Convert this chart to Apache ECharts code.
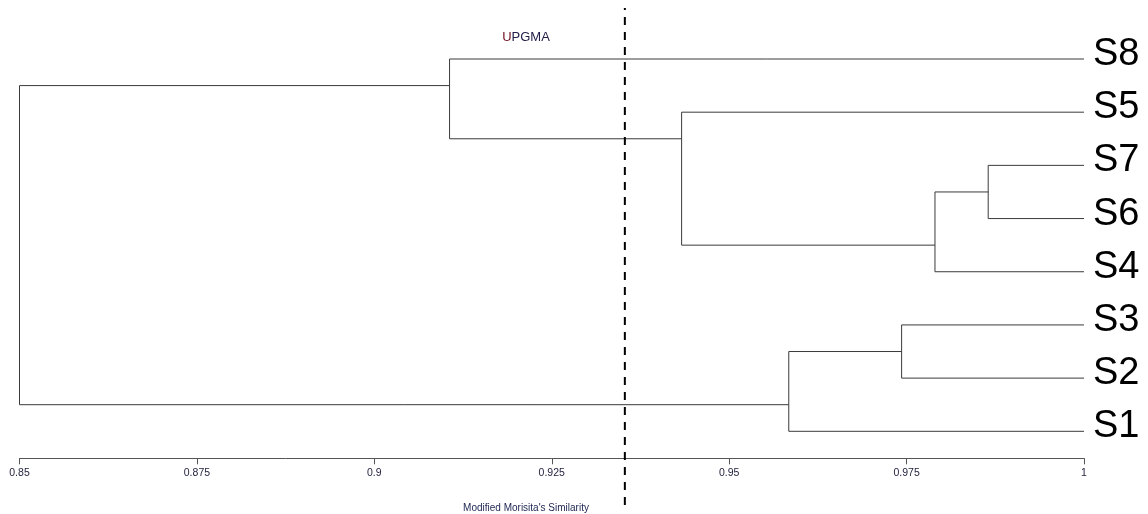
<!DOCTYPE html>
<html>
<head>
<meta charset="utf-8">
<title>UPGMA dendrogram</title>
<script src="https://cdn.jsdelivr.net/npm/echarts@6/dist/echarts.min.js"></script>
<style>
  html, body { margin: 0; padding: 0; background: #ffffff; }
  #chart { width: 1148px; height: 514px; }
</style>
</head>
<body>
<div id="chart"></div>
<script>
// Leaves in drawing order, top to bottom
const leaves = ['S8', 'S5', 'S7', 'S6', 'S4', 'S3', 'S2', 'S1'];

// Agglomeration steps: left child, right child, similarity at which they join.
// Children are leaf names or earlier steps written as 'N<step>'.
const mergeLeft = ['S7', 'N0', 'S5', 'S8', 'S3', 'N4', 'N3'];
const mergeRight = ['S6', 'S4', 'N1', 'N2', 'S2', 'S1', 'N5'];
const mergeSimilarity = [0.9865, 0.9790, 0.9433, 0.9106, 0.9743, 0.9584, 0.85];

// Cut level marked with the dashed line
const cutLevel = 0.9353;

// Similarity axis
const axisMin = 0.85;
const axisMax = 1;
const axisStep = 0.025;
const tickLabels = ['0.85', '0.875', '0.9', '0.925', '0.95', '0.975', '1'];

// ---- Tree layout (in data units: similarity on x, leaf index on y) ----
const nodeInfo = {};
leaves.forEach((name, i) => {
  nodeInfo[name] = { lo: i, hi: i, anchor: i, height: axisMax };
});
const segments = [];
mergeLeft.forEach((l, k) => {
  const r = mergeRight[k];
  const a = nodeInfo[l], b = nodeInfo[r];
  const h = mergeSimilarity[k];
  // horizontal branches from each child to this node
  segments.push([a.height, a.anchor, h, a.anchor]);
  segments.push([b.height, b.anchor, h, b.anchor]);
  // vertical joining bar
  segments.push([h, a.anchor, h, b.anchor]);
  nodeInfo['N' + k] = {
    lo: Math.min(a.lo, b.lo),
    hi: Math.max(a.hi, b.hi),
    anchor: a.hi + 0.5,
    height: h
  };
});

const chart = echarts.init(document.getElementById('chart'), null, { renderer: 'canvas' });

const font = '"Liberation Sans", Arial, sans-serif';
const lineColor = '#3a3a3a';

chart.setOption({
  animation: false,
  backgroundColor: '#ffffff',
  grid: [
    { left: 19.5, right: 64, top: 59, height: 372.3, containLabel: false },
    { left: 19.5, right: 64, top: 8, bottom: 9, containLabel: false }
  ],
  xAxis: [
    {
      type: 'value',
      gridIndex: 0,
      min: axisMin,
      max: axisMax,
      interval: axisStep,
      position: 'bottom',
      offset: 27,
      axisLine: { show: true, onZero: false, lineStyle: { color: '#555555', width: 1 } },
      axisTick: { show: true, length: 6, lineStyle: { color: '#555555' } },
      axisLabel: {
        margin: 9,
        fontSize: 10.5,
        fontFamily: font,
        color: '#1e1e3c',
        formatter: (v) => {
          const i = Math.round((v - axisMin) / axisStep);
          return tickLabels[i] !== undefined ? tickLabels[i] : '';
        }
      },
      splitLine: { show: false }
    },
    {
      type: 'value',
      gridIndex: 1,
      min: axisMin,
      max: axisMax,
      show: false
    }
  ],
  yAxis: [
    {
      type: 'value',
      gridIndex: 0,
      min: 0,
      max: leaves.length - 1,
      interval: 1,
      inverse: true,
      position: 'right',
      axisLine: { show: false, onZero: false },
      axisTick: { show: false },
      splitLine: { show: false },
      axisLabel: {
        margin: 9,
        formatter: (v) => '{leaf|' + (leaves[Math.round(v)] || '') + '}',
        rich: {
          leaf: {
            fontSize: 38,
            fontFamily: font,
            color: '#000000',
            padding: [0, 0, 9, 0]
          }
        }
      }
    },
    {
      type: 'value',
      gridIndex: 1,
      min: 0,
      max: 1,
      show: false
    }
  ],
  graphic: [
    {
      type: 'text',
      style: {
        x: 526,
        y: 37,
        text: '{u|U}{r|PGMA}',
        align: 'center',
        verticalAlign: 'middle',
        rich: {
          u: { fontSize: 13, fontFamily: font, fill: '#6e1020' },
          r: { fontSize: 13, fontFamily: font, fill: '#24204a' }
        }
      }
    },
    {
      type: 'text',
      style: {
        x: 526,
        y: 508,
        text: "Modified Morisita's Similarity",
        align: 'center',
        verticalAlign: 'middle',
        fontSize: 10,
        fontFamily: font,
        fill: '#1c2450'
      }
    }
  ],
  series: [
    {
      type: 'custom',
      name: 'dendrogram',
      xAxisIndex: 0,
      yAxisIndex: 0,
      clip: false,
      data: segments,
      renderItem: (params, api) => {
        const p1 = api.coord([api.value(0), api.value(1)]);
        const p2 = api.coord([api.value(2), api.value(3)]);
        return {
          type: 'line',
          shape: { x1: p1[0], y1: p1[1], x2: p2[0], y2: p2[1] },
          style: { stroke: lineColor, lineWidth: 1 }
        };
      }
    },
    {
      type: 'line',
      name: 'cut',
      xAxisIndex: 1,
      yAxisIndex: 1,
      data: [[cutLevel, 0], [cutLevel, 1]],
      symbol: 'none',
      lineStyle: { color: '#000000', width: 2, type: [8, 7] },
      silent: true
    }
  ]
});
</script>
</body>
</html>
